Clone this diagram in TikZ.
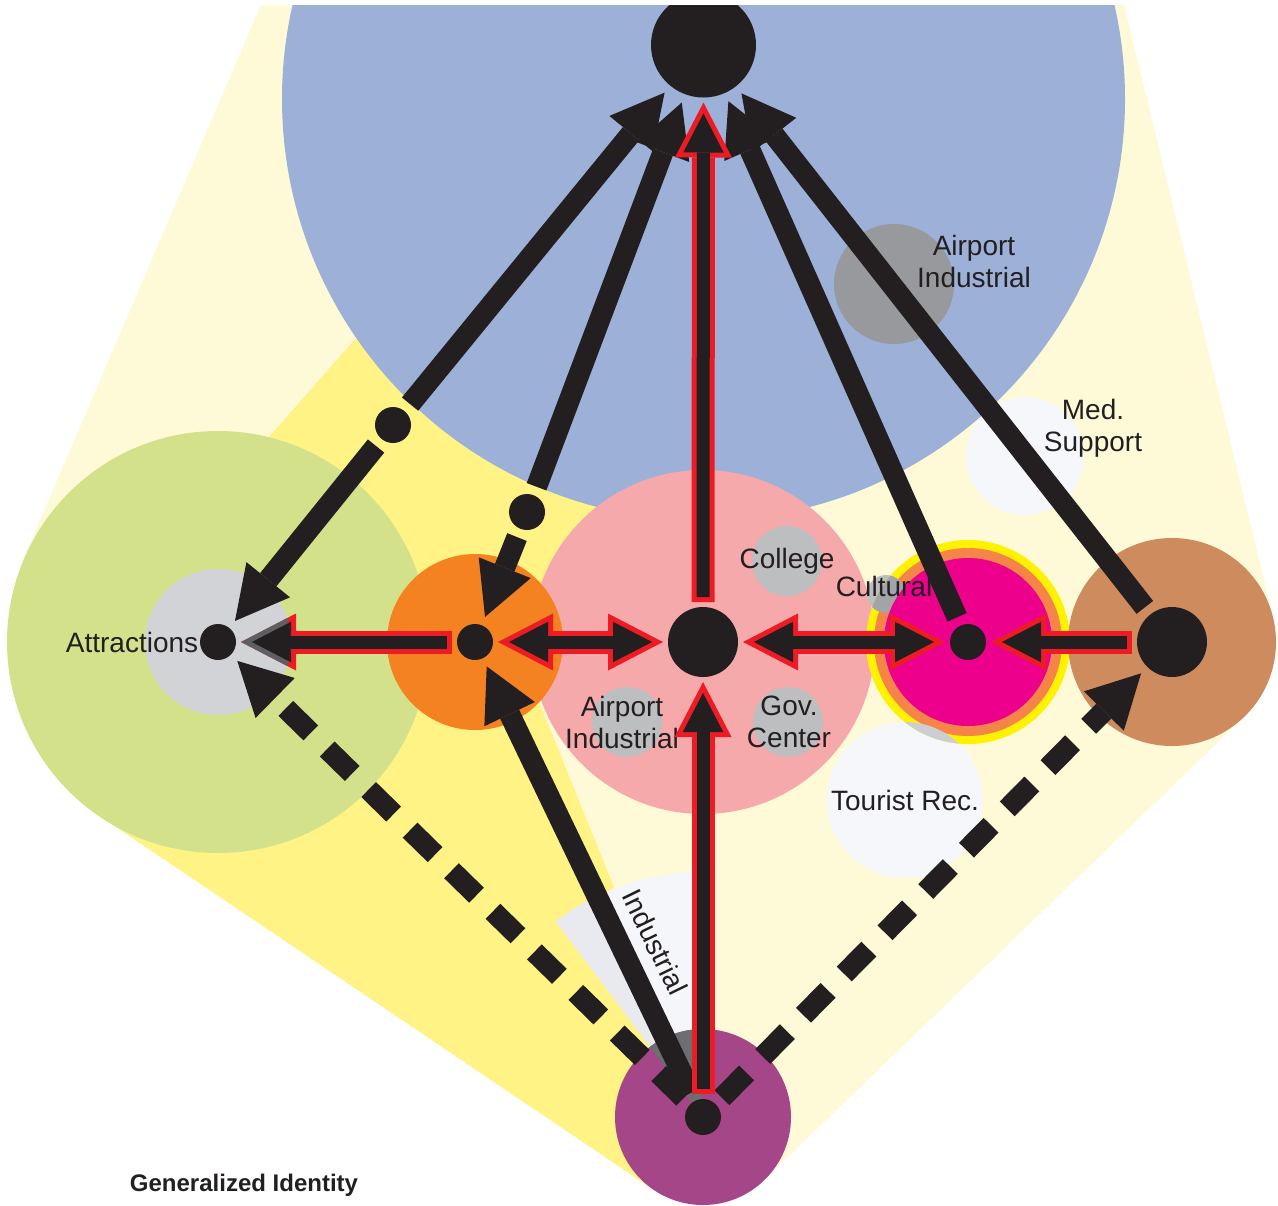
\documentclass[tikz,border=0pt]{standalone}
\usepackage{fontspec}
\setmainfont{Liberation Sans}
\usetikzlibrary{arrows.meta}
\definecolor{ink}{HTML}{231F20}
\definecolor{redc}{HTML}{ED1C24}
\definecolor{paley}{HTML}{FEF9D7}
\definecolor{brighty}{HTML}{FFF385}
\definecolor{bluec}{HTML}{9DB0D8}
\definecolor{greenc}{HTML}{D3E18A}
\definecolor{attrg}{HTML}{D1D3D6}
\definecolor{orangec}{HTML}{F48220}
\definecolor{pinkc}{HTML}{F6A9AB}
\definecolor{lgray}{HTML}{BDBEC0}
\definecolor{airg}{HTML}{98999C}
\definecolor{softw}{HTML}{F5F7FB}
\definecolor{magc}{HTML}{EC008C}
\definecolor{ringo}{HTML}{F58449}
\definecolor{ringy}{HTML}{FFF200}
\definecolor{cultg}{HTML}{A3A4A7}
\definecolor{tourg}{HTML}{CDCED1}
\definecolor{brownc}{HTML}{CD8B5E}
\definecolor{purplec}{HTML}{A54689}
\definecolor{wedgea}{HTML}{E9EAEF}
\definecolor{wedgeb}{HTML}{F5F6FA}
\definecolor{wedged}{HTML}{6D6E71}
\definecolor{outg}{HTML}{5E5F62}
\tikzset{
  dot/.style={circle, fill=ink, inner sep=0pt, outer sep=0pt, minimum size=18pt},
  hub/.style={dot, minimum size=35pt},
  lbl/.style={font=\fontsize{14}{16}\selectfont, text=ink, align=center, inner sep=0pt},
  link/.style={draw=ink, line width=10.5pt, shorten >=4.5pt, shorten <=4.5pt},
  dashlink/.style={link, dash pattern=on 17.5pt off 11.5pt},
  redline/.style={draw=redc, line width=11.5pt, shorten >=2.5pt, shorten <=2.5pt},
  inline/.style={draw=ink, line width=6.5pt, shorten >=7.95pt, shorten <=5pt},
  redhead/.tip={Triangle[width=28.5pt, length=27.5pt, line width=0pt]},
  inhead/.tip={Triangle[width=20.25pt, length=19.55pt, line width=0pt]},
  >={Triangle[width=28pt, length=26.5pt, line width=0pt]}
}
\begin{document}
\begin{tikzpicture}[x=0.5pt, y=-0.5pt]
\useasboundingbox (0,0) rectangle (1278,1205);
\fill[white] (0,0) rectangle (1278,1205);
\begin{scope}
\clip (0,5) rectangle (1278,1205);
% zones
\fill[paley] (261,5) -- (1124,5) -- (1273,617) -- (1244,717) -- (764,1180) -- (654,1190) -- (100,816) -- (24,558) -- cycle;
\fill[brighty] (447,235) -- (157,564) -- (100,816) -- (654,1190) -- (700,1100) -- (514,640) -- (600,560) -- (640,480) -- cycle;
\fill[bluec] (703.5,99) circle (421.5);
\fill[airg] (894,284) circle (60);
\fill[softw] (1025,456) circle (59);
\fill[greenc] (218,642) circle (211);
\fill[attrg] (218,642) circle (73);
\fill[pinkc] (703,642) circle (172);
\fill[lgray] (787,561) circle (35);
\fill[lgray] (627,722) circle (35);
\fill[lgray] (788,722) circle (35);
\fill[orangec] (475,642) circle (88);
\fill[softw] (905,800) circle (78);
\fill[lgray] (886,594) circle (19);
\fill[ringy] (968,642) circle (102);
\fill[ringo] (968,642) circle (94);
\begin{scope}
  \clip (968,642) circle (102);
  \fill[cultg] (886,594) circle (19);
  \fill[tourg] (905,800) circle (78);
\end{scope}
\fill[magc] (968,642) circle (84);
\fill[brownc] (1172,642) circle (104);
% industrial wedge
\fill[wedgea] (703,1117) -- +(-127:245) arc[start angle=-127, end angle=-116, radius=245] -- cycle;
\fill[wedgeb] (703,1117) -- +(-116:245) arc[start angle=-116, end angle=-92, radius=245] -- cycle;
\fill[purplec] (703,1117) circle (88);
\begin{scope}
  \clip (703,1117) circle (88);
  \fill[wedged] (703,1117) -- +(-127:245) arc[start angle=-127, end angle=-92, radius=245] -- cycle;
\end{scope}
% labels
\node[lbl] (airtop) at (974,261) {Airport\\Industrial};
\node[lbl] (med) at (1093,428) {Med.\\Support};
\node[lbl] (college) at (787,561) {College};
\node[lbl] (cultural) at (884,586) {Cultural};
\node[lbl] (airlow) at (622,722) {Airport\\Industrial};
\node[lbl] (gov) at (789,722) {Gov.\\Center};
\node[lbl] (tourist) at (905,800) {Tourist Rec.};
\node[lbl] (attrl) at (132,642) {Attractions};
\node[lbl, rotate=-64] (indl) at (655,942) {Industrial};
\node[font=\bfseries\fontsize{12}{14}\selectfont, text=ink] (title) at (244,1185) {Generalized Identity};
% hubs
\node[hub, minimum size=52.5pt] (apex) at (703.5,45) {};
\node[dot] (attr) at (218,642) {};
\node[dot] (orng) at (475,642) {};
\node[hub] (ctr) at (703,642) {};
\node[dot] (mag) at (968,642) {};
\node[hub] (brn) at (1172,642) {};
\node[dot] (pur) at (703,1117) {};
\node[dot] (m1) at (393,425) {};
\node[dot] (m2) at (527,512) {};
% links
\draw[link, ->] (m1) -- (apex);
\draw[link, ->] (m1) -- (attr);
\draw[link, ->] (m2) -- (apex);
\draw[link, ->] (m2) -- (orng);
\draw[link, ->] (mag) -- (apex);
\draw[link, ->] (brn) -- (apex);
\draw[link, ->] (pur) -- (orng);
\draw[dashlink, ->] (pur) -- (attr);
\draw[dashlink, ->] (pur) -- (brn);
\foreach \a/\b in {orng/attr, brn/mag, ctr/apex, pur/ctr}{
  \draw[redline, -redhead] (\a) -- (\b);
  \draw[inline, -inhead] (\a) -- (\b);
}
\foreach \a/\b in {orng/ctr, ctr/mag}{
  \draw[redline, redhead-redhead] (\a) -- (\b);
  \draw[inline, inhead-inhead, shorten <=7.95pt] (\a) -- (\b);
}
\begin{scope}
  \clip (218,642) circle (73);
  \draw[redline, draw=outg, -redhead] (orng) -- (attr);
  \draw[inline, -inhead] (orng) -- (attr);
\end{scope}
\end{scope}
\end{tikzpicture}
\end{document}
